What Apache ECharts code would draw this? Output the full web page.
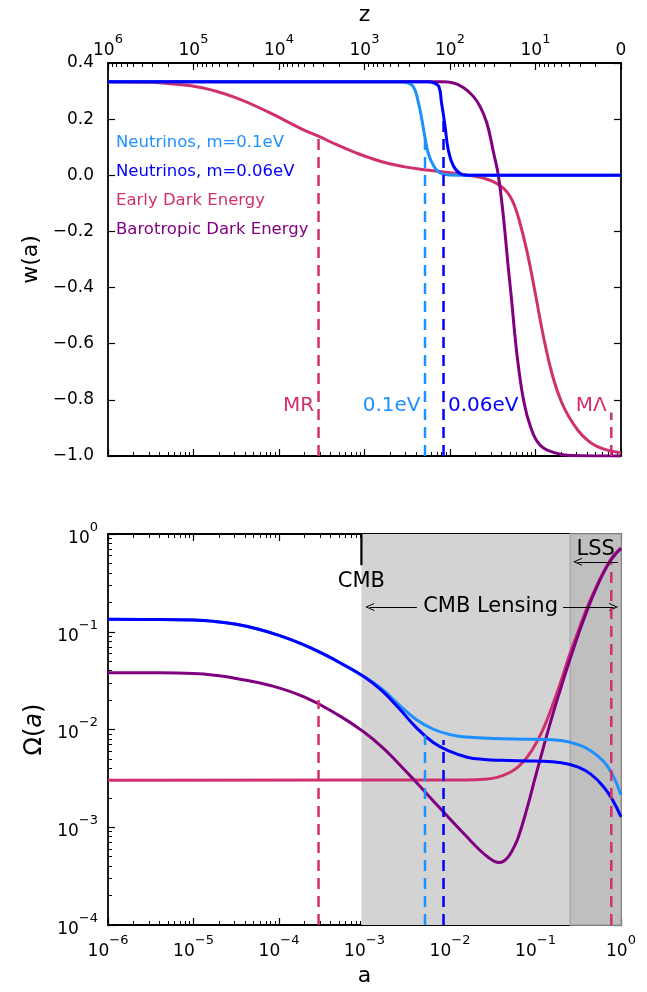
<!DOCTYPE html>
<html><head><meta charset="utf-8">
<script src="https://cdn.jsdelivr.net/npm/echarts@6/dist/echarts.min.js"></script>
<style>html,body{margin:0;padding:0;background:#fff}#c{width:647px;height:992px}</style>
</head><body><div id="c"></div>
<script>
// ---------------- data ----------------
const names  = ['Neutrinos, m=0.1eV', 'Neutrinos, m=0.06eV', 'Early Dark Energy', 'Barotropic Dark Energy'];
const colors = ['#1E90FF', '#0000FF', '#D0306E', '#800080'];

// top panel: equation of state w(a); x given as log10(a)
const wNu1LogA = [-6, -2.6, -2.51, -2.43, -2.37, -2.33, -2.29, -2.25, -2.19, -2.12, -2.0, -1.8, 0];
const wNu1     = [0.333, 0.333, 0.330, 0.316, 0.26, 0.20, 0.13, 0.074, 0.033, 0.009, 0.001, 0, 0];
const wNu2LogA = [-6, -2.26, -2.19, -2.13, -2.10, -2.06, -2.02, -1.96, -1.88, -1.78, 0];
const wNu2     = [0.333, 0.333, 0.329, 0.316, 0.26, 0.18, 0.09, 0.033, 0.006, 0, 0];
const wEdeLogA = [-6, -5.5, -5.3, -4.9, -4.5, -4.11, -3.72, -3.545, -3.32, -3.1, -2.92, -2.72, -2.53, -2.33, -2.13, -1.95, -1.8, -1.7, -1.6, -1.5, -1.4, -1.35, -1.3, -1.25, -1.2, -1.1, -1.0, -0.9, -0.8, -0.7, -0.6, -0.5, -0.4, -0.3, -0.15, 0];
const wEde     = [0.333, 0.331, 0.327, 0.312, 0.276, 0.223, 0.163, 0.140, 0.108, 0.080, 0.060, 0.042, 0.030, 0.021, 0.014, 0.007, 0.0, -0.004, -0.011, -0.022, -0.040, -0.054, -0.074, -0.105, -0.15, -0.27, -0.425, -0.585, -0.715, -0.805, -0.865, -0.91, -0.942, -0.963, -0.98, -0.988];
const wBarLogA = [-6, -2.1, -1.96, -1.84, -1.73, -1.65, -1.57, -1.49, -1.435, -1.376, -1.32, -1.28, -1.24, -1.2, -1.14, -1.06, -0.95, -0.79, -0.6, 0];
const wBar     = [0.333, 0.333, 0.329, 0.312, 0.282, 0.246, 0.187, 0.08, 0.0, -0.146, -0.324, -0.443, -0.573, -0.68, -0.8, -0.894, -0.96, -0.987, -0.998, -1.0];

// bottom panel: density fraction Omega(a); x given as log10(a)
const oNu1LogA = [-6, -5.5, -5.0, -4.75, -4.5, -4.25, -4.0, -3.75, -3.5, -3.25, -3.0, -2.8, -2.6, -2.4, -2.2, -2.0, -1.8, -1.5, -1.0, -0.7, -0.5, -0.35, -0.2, -0.1, 0];
const oNu1     = [0.1340, 0.1337, 0.1321, 0.1276, 0.1191, 0.1068, 0.0919, 0.0760, 0.0604, 0.0463, 0.0344, 0.0261, 0.0180, 0.01274, 0.01012, 0.00887, 0.00836, 0.00809, 0.00794, 0.00771, 0.00700, 0.00603, 0.00468, 0.00347, 0.00214];
const oNu2LogA = [-6, -5.5, -5.0, -4.75, -4.5, -4.25, -4.0, -3.75, -3.5, -3.25, -3.0, -2.8, -2.6, -2.4, -2.2, -2.0, -1.8, -1.6, -1.4, -1.0, -0.7, -0.5, -0.35, -0.2, -0.1, 0];
const oNu2     = [0.1340, 0.1337, 0.1321, 0.1276, 0.1191, 0.1068, 0.0919, 0.0760, 0.0604, 0.0463, 0.0344, 0.0251, 0.0166, 0.01059, 0.00741, 0.00596, 0.00521, 0.00494, 0.00484, 0.00475, 0.00457, 0.00412, 0.00347, 0.00257, 0.00191, 0.00128];
const oEdeLogA = [-6, -1.8, -1.6, -1.45, -1.3, -1.2, -1.1, -1.0, -0.9, -0.8, -0.7, -0.6, -0.5, -0.4, -0.3, -0.2, -0.1, 0];
const oEde     = [0.00303, 0.00304, 0.00310, 0.00324, 0.00363, 0.00417, 0.00519, 0.00708, 0.01059, 0.01778, 0.0316, 0.0589, 0.102, 0.174, 0.275, 0.417, 0.582, 0.716];
const oBarLogA = [-6, -5.5, -5.0, -4.7, -4.5, -4.1, -3.7, -3.3, -3.0, -2.8, -2.6, -2.4, -2.2, -2.0, -1.8, -1.65, -1.55, -1.48, -1.42, -1.36, -1.30, -1.25, -1.2, -1.1, -1.0, -0.9, -0.8, -0.7, -0.6, -0.5, -0.4, -0.3, -0.2, -0.1, 0];
const oBar     = [0.0381, 0.0380, 0.0374, 0.0355, 0.0333, 0.0282, 0.0214, 0.01396, 0.00933, 0.00668, 0.00447, 0.00292, 0.00188, 0.001216, 0.000794, 0.000582, 0.000490, 0.000447, 0.000435, 0.000457, 0.000525, 0.000631, 0.000794, 0.00155, 0.00331, 0.00692, 0.01413, 0.0272, 0.0513, 0.0933, 0.162, 0.266, 0.407, 0.569, 0.713];

// epoch markers (scale factor a) and the heights their dashed lines reach
const markerLabels = ['MR', '0.1eV', '0.06eV', 'M\u039B'];
const markerA      = [2.9e-4, 5.1e-3, 8.4e-3, 0.77];
const markerColor  = ['#D0306E', '#1E90FF', '#0000FF', '#D0306E'];
const markerTopW   = [0.142, 0.139, 0.199, -0.845];
const markerTopO   = [0.02, 0.0087, 0.0078, 0.5];

// survey ranges (scale factor) and annotation arrows
const aCMB = 9.2e-4;
const aLSS = 0.255;
const lensArrowLeft  = [1.15e-3, 4.1e-3];
const lensArrowRight = [0.21, 0.82];
const lensTextA = 0.0298;
const lensY = 0.179;
const lssArrow = [0.31, 0.92];
const lssY = 0.52;

// ---------------- chart ----------------
const FONT = 'DejaVu Sans';
const toPairs = (la, v) => la.map((x, i) => [Math.pow(10, x), v[i]]);
const seriesW = [toPairs(wNu1LogA, wNu1), toPairs(wNu2LogA, wNu2), toPairs(wEdeLogA, wEde), toPairs(wBarLogA, wBar)];
const seriesO = [toPairs(oNu1LogA, oNu1), toPairs(oNu2LogA, oNu2), toPairs(oEdeLogA, oEde), toPairs(oBarLogA, oBar)];
const drawOrder = [2, 3, 0, 1];

const supRich = {
  b: {fontFamily: FONT, fontSize: 17, color: '#000', lineHeight: 26, verticalAlign: 'bottom'},
  s: {fontFamily: FONT, fontSize: 13, color: '#000', lineHeight: 13, verticalAlign: 'top'}
};
const pow10Label = v => {
  const k = Math.round(Math.log10(v));
  return '{b|10}{s|' + (k < 0 ? '\u2212' + (-k) : k) + '}';
};
const axisLine = {show: true, onZero: false, lineStyle: {color: '#000', width: 1.8}};
const majorTick = {show: true, inside: true, length: 7, lineStyle: {color: '#000', width: 1.2}};
const minorTick = {show: true, splitNumber: 9, length: 4, lineStyle: {color: '#000', width: 1}};
const noSplit = {show: false};
const hiddenDot = {color: 'rgba(0,0,0,0)', opacity: 1};

const grids = [
  {left: 108, top: 63, width: 513, height: 393},
  {left: 108, top: 534, width: 513, height: 391}
];

const xAxes = [
  {gridIndex: 0, type: 'log', min: 1e-6, max: 1, position: 'bottom', splitNumber: 6, axisLine, axisTick: majorTick, minorTick, splitLine: noSplit, axisLabel: {show: false}},
  {gridIndex: 0, type: 'log', min: 1, max: 1e6, inverse: true, position: 'top', splitNumber: 6, axisLine, axisTick: majorTick, minorTick, splitLine: noSplit,
   name: 'z', nameLocation: 'middle', nameGap: 37, nameTextStyle: {fontFamily: FONT, fontSize: 22, color: '#000'},
   axisLabel: {show: true, margin: 4, rich: supRich, formatter: v => {
     const k = Math.round(Math.log10(v));
     return k === 0 ? '{b|0}' : '{b|10}{s|' + k + '}';
   }}},
  {gridIndex: 1, type: 'log', min: 1e-6, max: 1, position: 'bottom', splitNumber: 6, axisLine, axisTick: majorTick, minorTick, splitLine: noSplit,
   name: 'a', nameLocation: 'middle', nameGap: 40, nameTextStyle: {fontFamily: FONT, fontSize: 22, color: '#000'},
   axisLabel: {show: true, margin: 9, rich: supRich, formatter: pow10Label}},
  {gridIndex: 1, type: 'log', min: 1e-6, max: 1, position: 'top', splitNumber: 6, axisLine, axisTick: majorTick, minorTick, splitLine: noSplit, axisLabel: {show: false}}
];

const yAxes = [
  {gridIndex: 0, type: 'value', min: -1, max: 0.4, interval: 0.2, position: 'left', axisLine, axisTick: majorTick, splitLine: noSplit,
   name: 'w(a)', nameLocation: 'middle', nameGap: 58, nameTextStyle: {fontFamily: FONT, fontSize: 22, color: '#000'},
   axisLabel: {show: true, margin: 14, fontFamily: FONT, fontSize: 17, color: '#000',
     formatter: v => (v < -1e-9 ? '\u2212' : '') + Math.abs(v).toFixed(1)}},
  {gridIndex: 0, type: 'value', min: -1, max: 0.4, interval: 0.2, position: 'right', axisLine, axisTick: majorTick, splitLine: noSplit, axisLabel: {show: false}},
  {gridIndex: 1, type: 'log', min: 1e-4, max: 1, splitNumber: 4, position: 'left', axisLine, axisTick: majorTick, minorTick, splitLine: noSplit,
   name: '{n|\u03A9(}{i|a}{n|)}', nameLocation: 'middle', nameGap: 58,
   nameTextStyle: {rich: {n: {fontFamily: FONT, fontSize: 24, color: '#000'}, i: {fontFamily: FONT, fontSize: 24, fontStyle: 'italic', color: '#000'}}},
   axisLabel: {show: true, margin: 10, rich: supRich, formatter: pow10Label}},
  {gridIndex: 1, type: 'log', min: 1e-4, max: 1, splitNumber: 4, position: 'right', axisLine, axisTick: majorTick, minorTick, splitLine: noSplit, axisLabel: {show: false}}
];

const series = [];
const chev = 'path://M0,10 L5,0 L10,10 L8.8,10 L5,2.6 L1.2,10 Z';
const txt = {fontFamily: FONT, fontSize: 21, color: '#000', textBorderWidth: 0, opacity: 1};

// shaded survey ranges + arrows (bottom panel)
series.push({
  type: 'line', name: 'ranges', xAxisIndex: 2, yAxisIndex: 2, data: [], z: 0, silent: true,
  markArea: {silent: true, data: [
    [{xAxis: aCMB, itemStyle: {color: '#d3d3d3'}}, {xAxis: 1}],
    [{xAxis: aLSS, itemStyle: {color: '#bfbfbf', borderColor: '#a8a8a8', borderWidth: 1.5}}, {xAxis: 1}]
  ]}
});
series.push({
  type: 'line', name: 'arrows', xAxisIndex: 2, yAxisIndex: 2, data: [], z: 7, silent: true,
  markLine: {silent: true, symbolSize: [8, 9], lineStyle: {color: '#000', width: 1, type: 'solid'},
    label: {show: false}, emphasis: {disabled: true},
    data: [
      [{coord: [lensArrowLeft[0], lensY], symbol: chev}, {coord: [lensArrowLeft[1], lensY], symbol: 'none'}],
      [{coord: [lensArrowRight[0], lensY], symbol: 'none'}, {coord: [lensArrowRight[1], lensY], symbol: chev}],
      [{coord: [lssArrow[0], lssY], symbol: chev}, {coord: [lssArrow[1], lssY], symbol: 'none'}]
    ]}
});
// CMB tick line and text annotations
series.push({type: 'line', name: 'cmbline', xAxisIndex: 2, yAxisIndex: 2, data: [[aCMB, 1], [aCMB, 0.48]], symbol: 'none', silent: true,
  lineStyle: {color: '#000', width: 2.2}, z: 8});
series.push({type: 'scatter', name: 'annot', xAxisIndex: 2, yAxisIndex: 2, symbolSize: 1, silent: true,
  itemStyle: hiddenDot, z: 8,
  label: Object.assign({show: true, position: 'inside', formatter: p => p.data.t}, txt),
  data: [
    {value: [aCMB, 0.33], t: 'CMB'},
    {value: [lensTextA, lensY], t: 'CMB Lensing'},
    {value: [Math.sqrt(aLSS * 1), 0.70], t: 'LSS'}
  ]});

// curves
drawOrder.forEach(i => {
  series.push({type: 'line', name: names[i], xAxisIndex: 0, yAxisIndex: 0, data: seriesW[i], symbol: 'none',
    smooth: 0.45, lineStyle: {color: colors[i], width: 3}, itemStyle: {color: colors[i]}, z: 3 + drawOrder.indexOf(i), silent: true});
  series.push({type: 'line', name: names[i], xAxisIndex: 2, yAxisIndex: 2, data: seriesO[i], symbol: 'none',
    smooth: 0.45, lineStyle: {color: colors[i], width: 3}, itemStyle: {color: colors[i]}, z: 3 + drawOrder.indexOf(i), silent: true});
});

// dashed epoch markers
markerA.forEach((a, i) => {
  series.push({type: 'line', name: 'mk' + i, xAxisIndex: 0, yAxisIndex: 0, data: [[a, -1], [a, markerTopW[i]]], symbol: 'none', silent: true,
    lineStyle: {color: markerColor[i], width: 2.5, type: [11, 7]}, z: 9});
  series.push({type: 'line', name: 'mkb' + i, xAxisIndex: 2, yAxisIndex: 2, data: [[a, 1e-4], [a, markerTopO[i]]], symbol: 'none', silent: true,
    lineStyle: {color: markerColor[i], width: 2.5, type: [11, 7]}, z: 9});
  series.push({type: 'scatter', name: 'mkl' + i, xAxisIndex: 0, yAxisIndex: 0, data: [[a, -0.82]], symbolSize: 1, silent: true,
    itemStyle: hiddenDot, z: 9,
    label: {show: true, position: i === 2 ? 'right' : 'left', distance: 4, formatter: markerLabels[i], fontFamily: FONT, fontSize: 20, color: markerColor[i], textBorderWidth: 0, opacity: 1}});
});

const chart = echarts.init(document.getElementById('c'));
chart.setOption({
  animation: false,
  backgroundColor: '#fff',
  grid: grids,
  xAxis: xAxes,
  yAxis: yAxes,
  legend: {
    orient: 'vertical', left: 106, top: 129.5, itemGap: 12, itemWidth: 0, itemHeight: 0, icon: 'rect', selectedMode: false,
    textStyle: {fontFamily: FONT, fontSize: 16.5},
    data: names.map((n, i) => ({name: n, textStyle: {color: colors[i]}}))
  },
  series
});
</script></body></html>
